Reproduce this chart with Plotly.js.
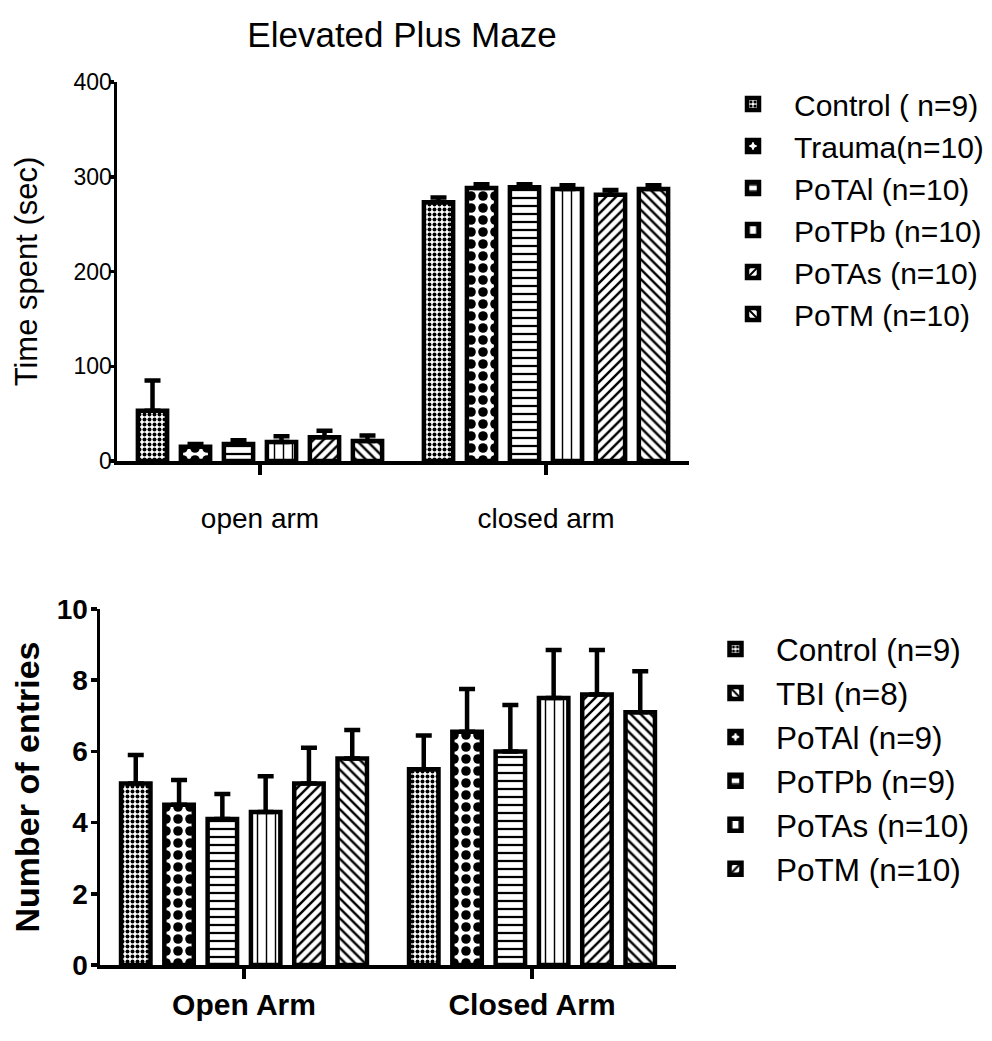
<!DOCTYPE html>
<html><head><meta charset="utf-8">
<script src="https://cdn.plot.ly/plotly-3.0.1.min.js"></script>
<style>html,body{margin:0;padding:0;background:#fff}#chart{width:992px;height:1041px}</style>
</head><body><div id="chart"></div>
<script>
// ---------- DATA: top chart (Time spent) ----------
const topCategories = ['open arm', 'closed arm'];
const topNames = ['Control ( n=9)', 'Trauma(n=10)', 'PoTAl (n=10)', 'PoTPb (n=10)', 'PoTAs (n=10)', 'PoTM (n=10)'];
const topControl = [53, 273];
const topTrauma = [15, 288];
const topPoTAl = [18, 289];
const topPoTPb = [20, 287];
const topPoTAs = [25, 281];
const topPoTM = [21, 287];
const topControlErr = [32, 5];
const topTraumaErr = [3, 4];
const topPoTAlErr = [4, 3];
const topPoTPbErr = [6, 4];
const topPoTAsErr = [7, 5];
const topPoTMErr = [6, 4];

// ---------- DATA: bottom chart (Number of entries) ----------
const botCategories = ['Open Arm', 'Closed Arm'];
// bar order left->right within each group
const botNames = ['Control (n=9)', 'PoTAl (n=9)', 'PoTPb (n=9)', 'PoTAs (n=10)', 'PoTM (n=10)', 'TBI (n=8)'];
const botControl = [5.1, 5.5];
const botPoTAl = [4.5, 6.55];
const botPoTPb = [4.1, 6.0];
const botPoTAs = [4.3, 7.5];
const botPoTM = [5.1, 7.6];
const botTBI = [5.8, 7.1];
const botControlErr = [0.8, 0.95];
const botPoTAlErr = [0.7, 1.2];
const botPoTPbErr = [0.7, 1.3];
const botPoTAsErr = [1.0, 1.35];
const botPoTMErr = [1.0, 1.25];
const botTBIErr = [0.8, 1.15];
const botLegendRank = [1, 3, 4, 5, 6, 2];

// ---------- STYLE ----------
const patterns = [
  {shape: '.', size: 5, solidity: 0.5},
  {shape: '.', size: 12, solidity: 0.5},
  {shape: '-', size: 8, solidity: 0.28},
  {shape: '|', size: 9, solidity: 0.16},
  {shape: '/', size: 7, solidity: 0.35},
  {shape: '\\', size: 7, solidity: 0.35}
];
const FONT = 'Liberation Sans, Arial, sans-serif';

function mkTrace(name, y, err, cats, i, xa, ya, leg, rank) {
  const p = patterns[i];
  return {
    type: 'bar', name: name, x: cats, y: y, xaxis: xa, yaxis: ya, legend: leg,
    legendrank: rank, legendgroup: leg + i,
    marker: {color: '#ffffff',
      line: {color: '#000', width: 4.5},
      pattern: {shape: p.shape, size: p.size, solidity: p.solidity, fgcolor: '#000', bgcolor: '#fff', fillmode: 'replace'}},
    error_y: {type: 'data', symmetric: false, array: err, arrayminus: err.map(() => 0),
      color: '#000', thickness: 4.5, width: 8},
    hoverinfo: 'none'
  };
}

const topVals = [topControl, topTrauma, topPoTAl, topPoTPb, topPoTAs, topPoTM];
const topErrs = [topControlErr, topTraumaErr, topPoTAlErr, topPoTPbErr, topPoTAsErr, topPoTMErr];
const botVals = [botControl, botPoTAl, botPoTPb, botPoTAs, botPoTM, botTBI];
const botErrs = [botControlErr, botPoTAlErr, botPoTPbErr, botPoTAsErr, botPoTMErr, botTBIErr];

const traces = [];
topNames.forEach((n, i) => traces.push(mkTrace(n, topVals[i], topErrs[i], topCategories, i, 'x', 'y', 'legend', i + 1)));
botNames.forEach((n, i) => traces.push(mkTrace(n, botVals[i], botErrs[i], botCategories, i, 'x2', 'y2', 'legend2', botLegendRank[i])));

const W = 992, H = 1041;
const px = v => v / W, py = v => 1 - v / H;

const axisCommon = {showline: true, linecolor: '#000', linewidth: 3.5, ticks: 'outside',
  tickcolor: '#000', tickwidth: 3.5, showgrid: false, zeroline: false, automargin: false, fixedrange: true};

const layout = {
  width: W, height: H,
  margin: {l: 0, r: 0, t: 0, b: 0, autoexpand: false},
  paper_bgcolor: '#fff', plot_bgcolor: '#fff',
  font: {family: FONT, color: '#000'},
  barmode: 'group', bargap: 0.098, bargroupgap: 0.32,
  title: {text: 'Elevated Plus Maze', font: {family: FONT, size: 35, color: '#000'},
    x: px(402), xanchor: 'center', xref: 'paper', y: py(35), yanchor: 'middle', yref: 'container'},
  xaxis: Object.assign({}, axisCommon, {domain: [px(117), px(689)], anchor: 'y', type: 'category',
    range: [-0.5, 1.5], ticklen: 10, tickfont: {size: 28}, ticklabelstandoff: 20}),
  yaxis: Object.assign({}, axisCommon, {domain: [py(461), py(82)], anchor: 'x', range: [0, 400],
    dtick: 100, ticklen: 5, tickfont: {size: 23}, ticklabelstandoff: -8,
    title: {text: 'Time spent (sec)', font: {size: 31}, standoff: 27}}),
  xaxis2: Object.assign({}, axisCommon, {domain: [px(100), px(676)], anchor: 'y2', type: 'category',
    range: [-0.5, 1.5], ticklen: 10, tickfont: {size: 30, weight: 'bold'}}),
  yaxis2: Object.assign({}, axisCommon, {domain: [py(965), py(609)], anchor: 'x2', range: [0, 10],
    dtick: 2, ticklen: 6, tickfont: {size: 28, weight: 'bold'}, ticklabelstandoff: -3,
    title: {text: 'Number of entries', font: {size: 34, weight: 'bold'}, standoff: 8}}),
  legend: {x: px(712), y: py(78), xanchor: 'left', yanchor: 'top', font: {size: 30, family: FONT},
    bgcolor: 'rgba(0,0,0,0)', traceorder: 'normal', tracegroupgap: 11.5, itemwidth: 72},
  legend2: {x: px(695), y: py(622), xanchor: 'left', yanchor: 'top', font: {size: 31.5, family: FONT},
    bgcolor: 'rgba(0,0,0,0)', traceorder: 'normal', tracegroupgap: 5, itemwidth: 71},
  showlegend: true
};

Plotly.newPlot('chart', traces, layout, {displayModeBar: false, staticPlot: true});
</script>
</body></html>
